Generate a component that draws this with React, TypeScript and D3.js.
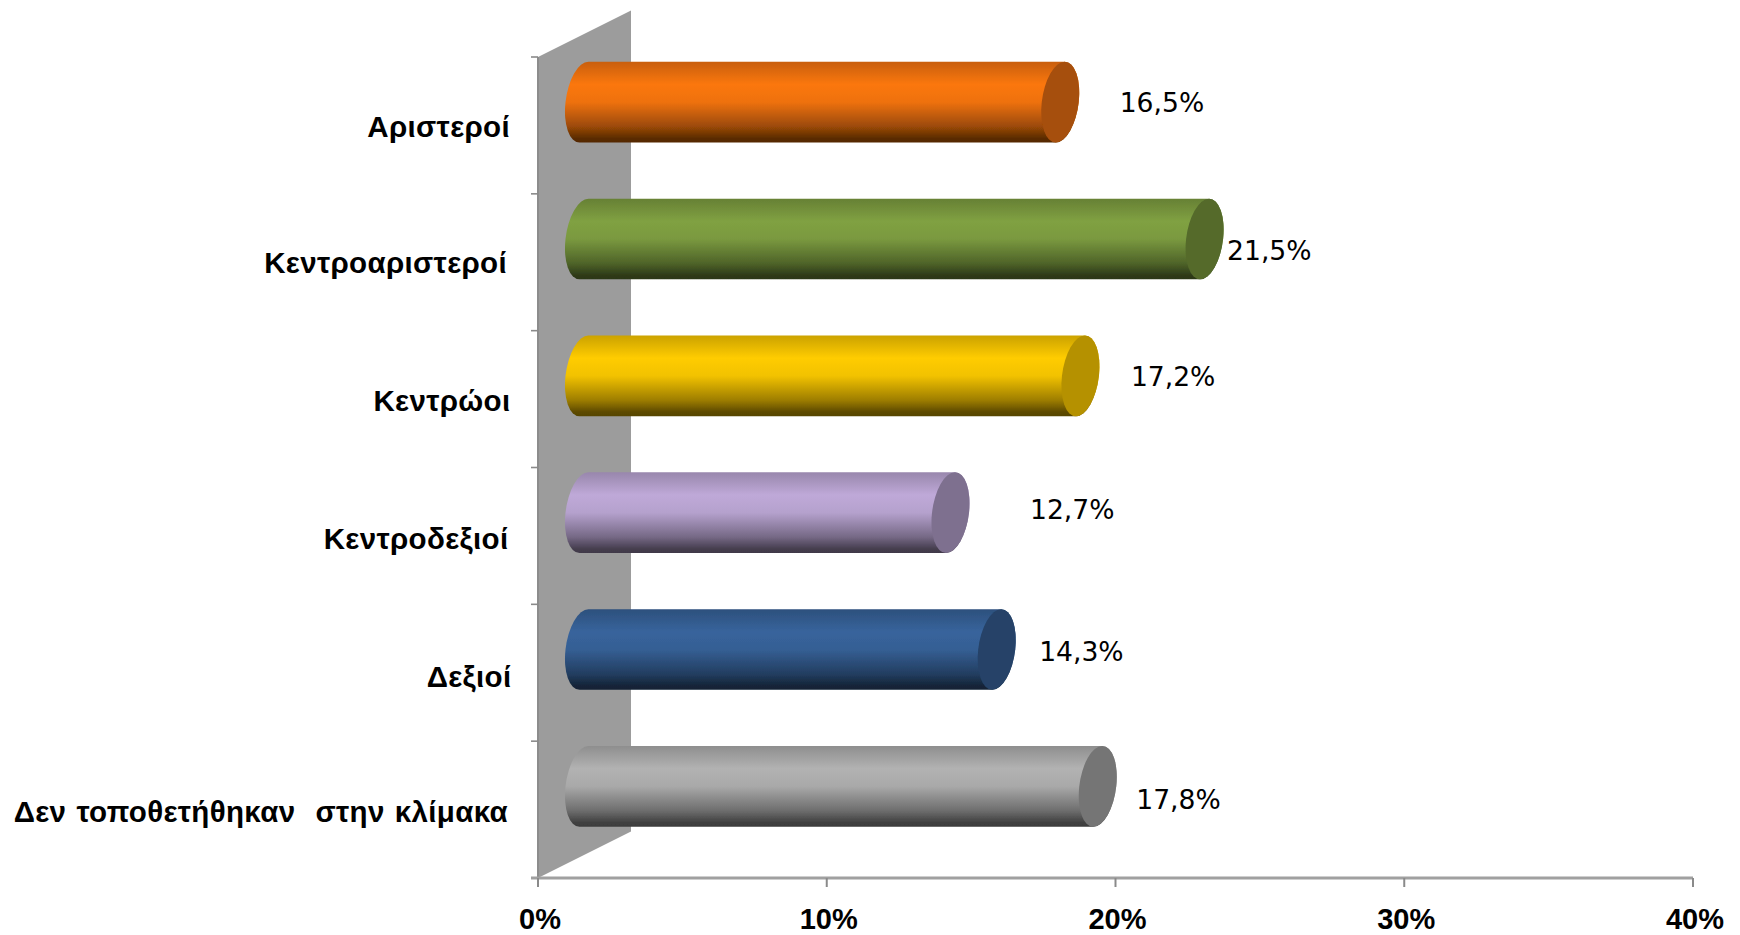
import React from "react";
import * as d3 from "d3";

const categories = ["Αριστεροί", "Κεντροαριστεροί", "Κεντρώοι", "Κεντροδεξιοί", "Δεξιοί", "Δεν τοποθετήθηκαν  στην κλίμακα"];
const values = [16.5, 21.5, 17.2, 12.7, 14.3, 17.8];
const valueLabels = ["16,5%", "21,5%", "17,2%", "12,7%", "14,3%", "17,8%"];
const barColors = ["#fb770c", "#80a142", "#ffcc00", "#bfa9d8", "#38649c", "#b2b2b2"];
const xTicks = [0, 10, 20, 30, 40];

// layout only
const labelNudgeX = [101, 64, 92, 121, 84, 80];
const labelBaselines = [112, 260, 386, 519, 661, 809];
const catRight = [510, 507, 510.5, 508.5, 511.5, 508];
const catBaselines = [137, 273, 411, 549, 687, 822];
const capShade = [0.66, 0.66, 0.71, 0.66, 0.66, 0.66];
const W = 1740, H = 935;
const depthX = 93, depthY = 46.5;

const x = d3.scaleLinear().domain([0, 40]).range([538, 1693]);
const y = d3.scaleBand<string>().domain(categories).range([57, 878]).paddingInner(0.41).paddingOuter(0.205);

const shade = (c: string, k: number) => {
  const r = d3.rgb(c);
  return d3.rgb(r.r * k, r.g * k, r.b * k).formatHex();
};
const stops: [number, number][] = [[0, 0.8], [0.06, 0.84], [0.28, 1], [0.5, 0.95], [0.8, 0.62], [0.95, 0.36], [1, 0.34]];

export default function App() {
  const rx = 18.5;
  const h = y.bandwidth();
  const ry = h / 2;
  const skew = -6.3;
  const x0 = x(0);
  const axisY = y.range()[1];
  const topY = y.range()[0];
  const wall = d3.line()([
    [x0, topY],
    [x0 + depthX, topY - depthY],
    [x0 + depthX, axisY - depthY],
    [x0, axisY],
  ]) + "Z";
  const edges = d3.range(categories.length + 1).map((i) => topY + (i * (axisY - topY)) / categories.length);

  return (
    <svg width={W} height={H} style={{ position: "absolute", left: 0, top: 0, background: "#fff" }}>
      <defs>
        {barColors.map((c, i) => (
          <linearGradient key={i} id={`g${i}`} x1="0" y1="0" x2="0" y2="1">
            {stops.map(([o, k], j) => (
              <stop key={j} offset={o} stopColor={shade(c, k)} />
            ))}
          </linearGradient>
        ))}
        <filter id="soft" x="-2%" y="-2%" width="104%" height="104%">
          <feGaussianBlur stdDeviation="0.6" />
        </filter>
      </defs>

      <g filter="url(#soft)">
        <path d={wall} fill="#9c9c9c" />
        <line x1={x0} x2={x0} y1={topY} y2={axisY} stroke="#8c8c8c" strokeWidth={2} />
        {edges.map((e, i) => (
          <line key={i} x1={x0 - 7} x2={x0} y1={e} y2={e} stroke="#8a8a8a" strokeWidth={1.6} />
        ))}
        <line x1={x0 - 7} x2={x(40)} y1={axisY} y2={axisY} stroke="#a0a0a0" strokeWidth={3} />
        {xTicks.map((t) => (
          <line key={t} x1={x(t)} x2={x(t)} y1={axisY} y2={axisY + 9} stroke="#8a8a8a" strokeWidth={2} />
        ))}

        {categories.map((cat, i) => {
          const cy = y(cat)! + ry - depthY / 2;
          const L = x0 + depthX / 2 - 0.5;
          const R = x0 + depthX / 2 + (x(values[i]) - x0) - 0.7;
          const body = `M${L},${-ry}L${R},${-ry}A${rx},${ry} 0 0 1 ${R},${ry}L${L},${ry}A${rx},${ry} 0 0 1 ${L},${-ry}Z`;
          return (
            <g key={cat} transform={`translate(0,${cy}) skewX(${skew})`}>
              <path d={body} fill={`url(#g${i})`} />
              <ellipse cx={R} cy={0} rx={rx} ry={ry} fill={shade(barColors[i], capShade[i])} />
            </g>
          );
        })}
      </g>

      <g fontFamily="'Liberation Sans', Arial, sans-serif" fontWeight="bold" fill="#000">
        {categories.map((cat, i) => (
          <text key={cat} x={catRight[i]} y={catBaselines[i]} textAnchor="end" fontSize={29.5} letterSpacing={0.35} wordSpacing={1.5} style={{ whiteSpace: "pre" }}>
            {cat}
          </text>
        ))}
        {xTicks.map((t) => (
          <text key={t} x={x(t) + 2} y={929} textAnchor="middle" fontSize={29}>
            {`${t}%`}
          </text>
        ))}
      </g>

      <g fontFamily="'DejaVu Sans', sans-serif" fill="#000">
        {values.map((v, i) => (
          <text key={i} x={x(v) + depthX / 2 + labelNudgeX[i]} y={labelBaselines[i]} textAnchor="middle" fontSize={26.6}>
            {valueLabels[i]}
          </text>
        ))}
      </g>
    </svg>
  );
}
